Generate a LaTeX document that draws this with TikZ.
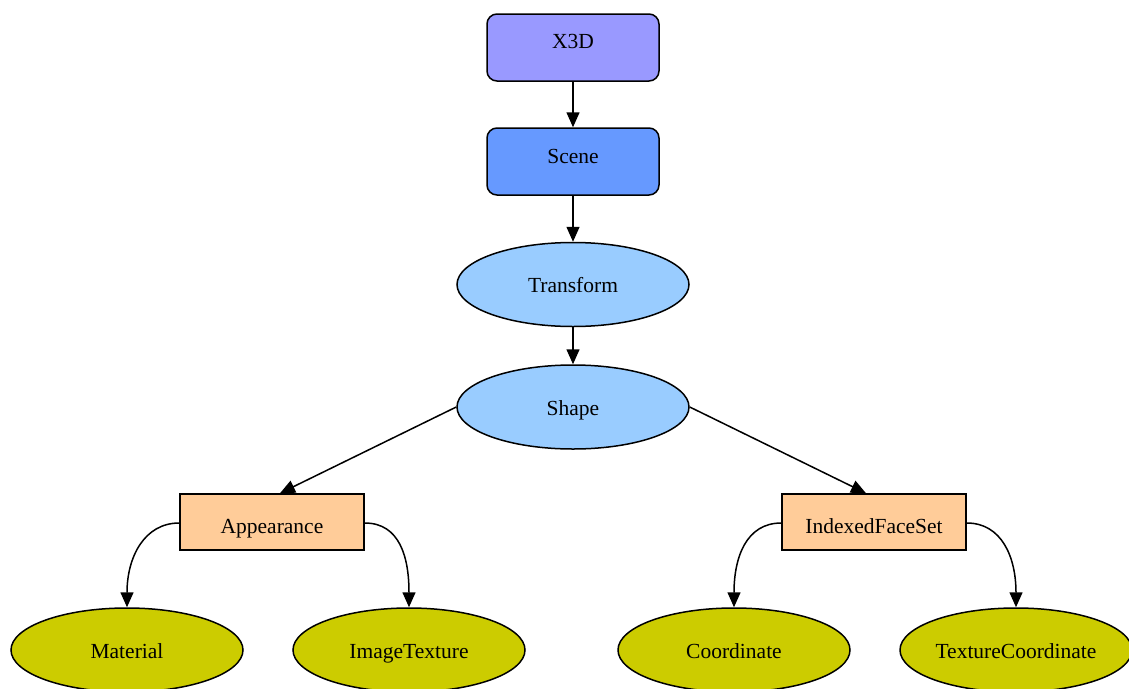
\documentclass[tikz,border=0pt]{standalone}
\usepackage{fontspec}
\setmainfont{Liberation Serif}
\usetikzlibrary{shapes.geometric,arrows.meta}
\definecolor{cX}{HTML}{9999FF}
\definecolor{cScene}{HTML}{6699FF}
\definecolor{cBlue}{HTML}{99CCFF}
\definecolor{cOrange}{HTML}{FFCC99}
\definecolor{cOlive}{HTML}{CCCC00}
\newcommand{\lbl}[2]{\raisebox{#1}[14pt][4pt]{#2}}
\tikzset{
  every node/.style={font=\fontsize{21.5}{25}\selectfont},
  rbox/.style={draw, line width=1.5pt, rounded corners=10pt, minimum width=172pt, minimum height=67pt, inner sep=0pt},
  sbox/.style={draw, line width=1.5pt, fill=cOrange, minimum width=184pt, minimum height=56pt, inner sep=0pt},
  bell/.style={draw, ellipse, line width=1.5pt, fill=cBlue, minimum width=232pt, minimum height=84pt, inner sep=0pt},
  oell/.style={draw, ellipse, line width=1.5pt, fill=cOlive, minimum width=232pt, minimum height=84pt, inner sep=0pt},
  edge/.style={draw, line width=1.5pt, -{Triangle[length=15pt,width=13pt]}}
}
\begin{document}
\begin{tikzpicture}[x=1pt,y=-1pt]
\useasboundingbox (0,0) rectangle (1129,688);
\clip (0,0) rectangle (1129,688);
\node[rbox, fill=cX] (x3d) at (573,47.5) {\lbl{4.5pt}{X3D}};
\node[rbox, fill=cScene] (scene) at (573,161.5) {\lbl{3.5pt}{Scene}};
\node[bell] (transform) at (573,284.5) {\lbl{-3pt}{Transform}};
\node[bell] (shape) at (573,407) {\lbl{-3pt}{Shape}};
\node[sbox] (app) at (272,522) {\lbl{-6pt}{Appearance}};
\node[sbox] (ifs) at (874,522) {\lbl{-6pt}{IndexedFaceSet}};
\node[oell] (mat) at (127,650) {\lbl{-3pt}{Material}};
\node[oell] (img) at (409,650) {\lbl{-3pt}{ImageTexture}};
\node[oell] (coord) at (734,650) {\lbl{-3pt}{Coordinate}};
\node[oell] (tcoord) at (1016,650) {\lbl{-3pt}{TextureCoordinate}};
\draw[edge] (x3d.south) -- (scene.north);
\draw[edge] (scene.south) -- (transform.north);
\draw[edge] (transform.south) -- (shape.north);
\draw[edge] (shape.west) -- ([xshift=8pt]app.north);
\draw[edge] (shape.east) -- ([xshift=-8pt]ifs.north);
\draw[edge] ([yshift=-1pt]app.west) .. controls +(-35,0) and +(0,-50) .. (mat.north);
\draw[edge] ([yshift=-1pt]app.east) .. controls +(35,0) and +(0,-50) .. (img.north);
\draw[edge] ([yshift=-1pt]ifs.west) .. controls +(-35,0) and +(0,-50) .. (coord.north);
\draw[edge] ([yshift=-1pt]ifs.east) .. controls +(35,0) and +(0,-50) .. (tcoord.north);
\end{tikzpicture}
\end{document}
